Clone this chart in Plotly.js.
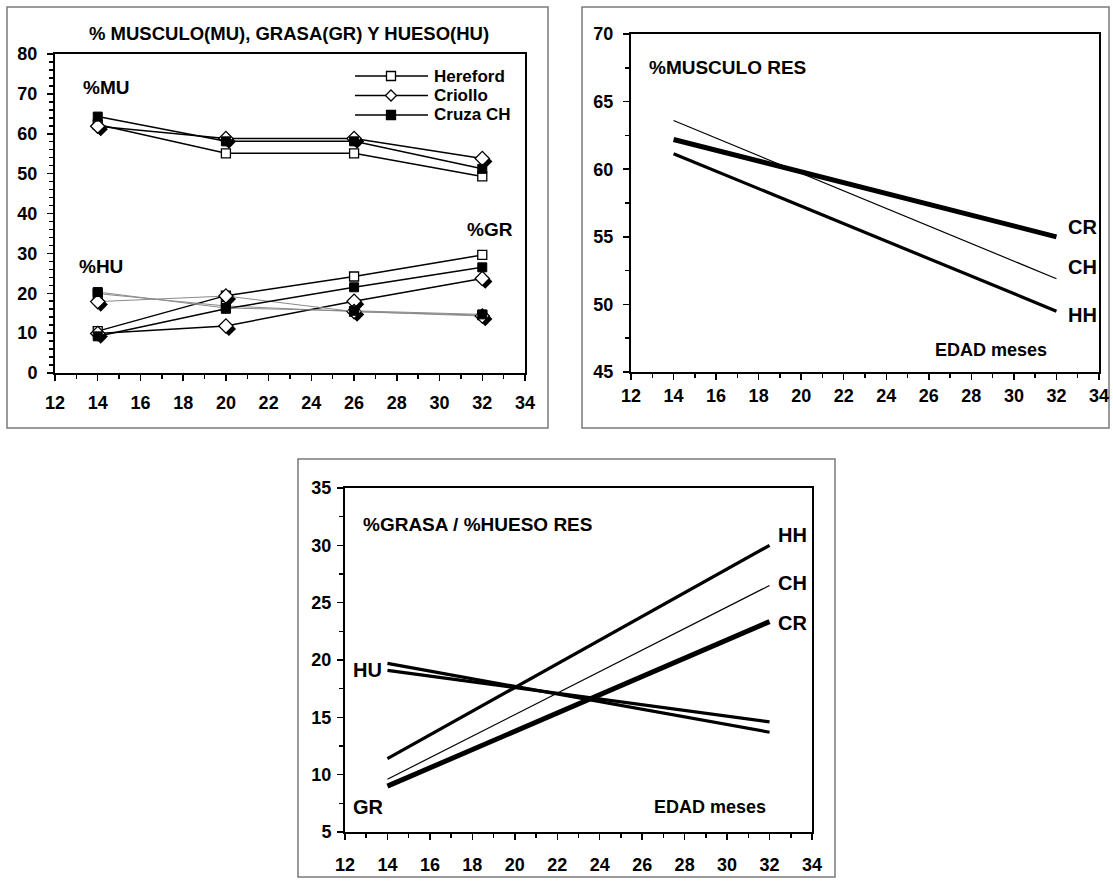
<!DOCTYPE html>
<html>
<head>
<meta charset="utf-8">
<script src="https://cdn.plot.ly/plotly-3.0.1.min.js"></script>
<style>html,body{margin:0;padding:0;background:#fff;}#chart{width:1113px;height:881px;}</style>
</head>
<body>
<div id="chart"></div>
<script>
// ---------- DATA ----------
// Chart 1: % musculo / grasa / hueso by age (months)
const ages = [14, 20, 26, 32];
const breeds = ['Hereford', 'Criollo', 'Cruza CH'];
const muHereford = [62.3, 55.1, 55.1, 49.3];
const muCriollo  = [61.9, 58.8, 58.8, 53.8];
const muCruza    = [64.3, 58.1, 58.1, 51.2];
const grHereford = [10.5, 19.4, 24.2, 29.6];
const grCriollo  = [9.9, 11.8, 18.0, 23.7];
const grCruza    = [9.2, 16.1, 21.5, 26.5];
const huHereford = [19.9, 16.8, 15.4, 14.5];
const huCriollo  = [17.9, 19.3, 15.4, 14.3];
const huCruza    = [20.3, 16.3, 15.6, 14.7];

// Chart 2: % musculo res (regression lines)
const ageEnds = [14, 32];
const musHH = [61.15, 49.5];
const musCH = [63.6, 51.9];
const musCR = [62.2, 55.0];

// Chart 3: % grasa / % hueso res (regression lines)
const grasaHH = [11.4, 30.0];
const grasaCH = [9.6, 26.5];
const grasaCR = [9.0, 23.35];
const huesoA  = [19.7, 13.7];
const huesoB  = [19.1, 14.6];

// ---------- LAYOUT HELPERS ----------
const W = 1113, H = 881;
const FONT = 'Liberation Sans, Arial, sans-serif';
const px = v => v / W;
const py = v => 1 - v / H;

// plot areas in pixels
const P1 = {l: 55, r: 525, t: 54, b: 373};
const P2 = {l: 631, r: 1099, t: 34, b: 372};
const P3 = {l: 345, r: 812, t: 488, b: 832};

function axis(P, isX, range, dtick, minorDtick, anchor, standoff) {
  return {
    domain: isX ? [px(P.l), px(P.r)] : [py(P.b), py(P.t)],
    range: range, autorange: false,
    tickmode: 'linear', tick0: range[0], dtick: dtick,
    showgrid: false, zeroline: false,
    showline: true, linecolor: 'black', linewidth: 2, mirror: true,
    ticks: 'outside', ticklen: 6, tickwidth: 1.5, tickcolor: 'black',
    minor: {dtick: minorDtick, ticks: 'outside', ticklen: 4, tickwidth: 1.5, tickcolor: 'black', showgrid: false},
    tickfont: {family: FONT, size: 18, color: 'black', weight: 'bold'},
    ticklabelstandoff: standoff,
    anchor: anchor, fixedrange: true
  };
}

// ---------- TRACES ----------
const lineBlack = {color: 'black', width: 1.5};
const lineGray = {color: '#8a8a8a', width: 1};
const mk = {
  'Hereford': {symbol: 'square', size: 9, color: 'white', line: {color: 'black', width: 1.3}},
  'Criollo':  {symbol: 'diamond', size: 11, color: 'white', line: {color: 'black', width: 1.3}},
  'Cruza CH': {symbol: 'square', size: 9, color: 'black', line: {color: 'black', width: 1}}
};
const shadowMk = {symbol: 'diamond', size: 11, color: 'black', line: {color: 'black', width: 0}};

const byBreed = {
  'Hereford': [muHereford, grHereford, huHereford],
  'Criollo':  [muCriollo, grCriollo, huCriollo],
  'Cruza CH': [muCruza, grCruza, huCruza]
};

// pixel offset of the shadow of the Criollo markers
const dx = 3 * (34 - 12) / (P1.r - P1.l);
const dy = -3 * 80 / (P1.b - P1.t);

const traces = [];
breeds.forEach(b => {
  const [mu, gr, hu] = byBreed[b];
  if (b === 'Criollo') {
    [mu, gr, hu].forEach(s => traces.push({
      x: ages.map(v => v + dx), y: s.map(v => v + dy), xaxis: 'x', yaxis: 'y',
      mode: 'markers', marker: shadowMk, hoverinfo: 'skip', showlegend: false, cliponaxis: false
    }));
  }
  [[mu, lineBlack], [gr, lineBlack], [hu, lineGray]].forEach(([s, ln]) => traces.push({
    x: ages, y: s, xaxis: 'x', yaxis: 'y', name: b,
    mode: 'lines+markers', line: ln, marker: mk[b], showlegend: false, cliponaxis: false
  }));
});

// chart 2
[[musHH, 3.2], [musCH, 1.2], [musCR, 5]].forEach(([s, w]) => traces.push({
  x: ageEnds, y: s, xaxis: 'x2', yaxis: 'y2', mode: 'lines',
  line: {color: 'black', width: w}, showlegend: false
}));
// chart 3
[[grasaHH, 3.2], [grasaCH, 1.2], [grasaCR, 5], [huesoA, 3.2], [huesoB, 3.2]].forEach(([s, w]) => traces.push({
  x: ageEnds, y: s, xaxis: 'x3', yaxis: 'y3', mode: 'lines',
  line: {color: 'black', width: w}, showlegend: false
}));

// ---------- SHAPES & ANNOTATIONS ----------
const shapes = [];
const ann = [];
function box(l, t, r, b) {
  shapes.push({type: 'rect', xref: 'paper', yref: 'paper', x0: px(l), x1: px(r), y0: py(b), y1: py(t),
    line: {color: '#7a7a7a', width: 1.5}, fillcolor: 'rgba(0,0,0,0)', layer: 'below'});
}
box(7, 7, 548, 428);
box(582, 7, 1109, 428);
box(298, 459, 835, 877);

function txt(x, y, xref, yref, text, size, xanchor) {
  ann.push({x: x, y: y, xref: xref, yref: yref, text: text, showarrow: false,
    xanchor: xanchor || 'left', yanchor: 'middle',
    font: {family: FONT, size: size, color: 'black', weight: 'bold'}});
}
// chart 1 texts
txt(px(289), py(33), 'paper', 'paper', '% MUSCULO(MU), GRASA(GR) Y HUESO(HU)', 18.5, 'center');
txt(13.2, 71.7, 'x', 'y', '%MU', 19);
txt(13.05, 26.6, 'x', 'y', '%HU', 19);
txt(31.2, 36.1, 'x', 'y', '%GR', 19);
// custom legend
const legRows = [76, 95.5, 115];
breeds.forEach((b, i) => {
  const yy = legRows[i];
  shapes.push({type: 'line', xref: 'paper', yref: 'paper', x0: px(355), x1: px(428), y0: py(yy), y1: py(yy),
    line: {color: 'black', width: 1.5}});
  const m = mk[b], cx = 391, r = m.symbol === 'diamond' ? 5.5 : 4.5;
  if (m.symbol === 'diamond') {
    shapes.push({type: 'path', xref: 'paper', yref: 'paper',
      path: `M ${px(cx)},${py(yy - r)} L ${px(cx + r)},${py(yy)} L ${px(cx)},${py(yy + r)} L ${px(cx - r)},${py(yy)} Z`,
      fillcolor: m.color, line: {color: 'black', width: 1.3}});
  } else {
    shapes.push({type: 'rect', xref: 'paper', yref: 'paper', x0: px(cx - r), x1: px(cx + r), y0: py(yy + r), y1: py(yy - r),
      fillcolor: m.color, line: {color: 'black', width: 1.3}});
  }
  txt(px(432), py(yy), 'paper', 'paper', b, 17);
});
// chart 2 texts
txt(12.75, 67.5, 'x2', 'y2', '%MUSCULO RES', 19);
txt(26.2, 46.65, 'x2', 'y2', 'EDAD meses', 18);
txt(32.45, 55.7, 'x2', 'y2', 'CR', 20);
txt(32.45, 52.8, 'x2', 'y2', 'CH', 20);
txt(32.45, 49.2, 'x2', 'y2', 'HH', 20);
// chart 3 texts
txt(12.75, 31.8, 'x3', 'y3', '%GRASA / %HUESO RES', 19);
txt(26.45, 7.2, 'x3', 'y3', 'EDAD meses', 18);
txt(32.3, 30.9, 'x3', 'y3', 'HH', 20);
txt(32.3, 26.7, 'x3', 'y3', 'CH', 20);
txt(32.3, 23.2, 'x3', 'y3', 'CR', 20);
txt(13.85, 19.1, 'x3', 'y3', 'HU', 20, 'right');
txt(13.95, 7.2, 'x3', 'y3', 'GR', 20, 'right');

const layout = {
  width: W, height: H,
  margin: {l: 0, r: 0, t: 0, b: 0},
  paper_bgcolor: 'white', plot_bgcolor: 'rgba(0,0,0,0)',
  showlegend: false,
  xaxis:  axis(P1, true,  [12, 34], 2, 1, 'y', 6),
  yaxis:  axis(P1, false, [0, 80], 10, 2, 'x', 6),
  xaxis2: axis(P2, true,  [12, 34], 2, 1, 'y2', 0),
  yaxis2: axis(P2, false, [45, 70], 5, 2.5, 'x2', 6),
  xaxis3: axis(P3, true,  [12, 34], 2, 1, 'y3', 9),
  yaxis3: axis(P3, false, [5, 35], 5, 2.5, 'x3', 2),
  shapes: shapes,
  annotations: ann
};

Plotly.newPlot('chart', traces, layout, {staticPlot: true, displayModeBar: false});
</script>
</body>
</html>
